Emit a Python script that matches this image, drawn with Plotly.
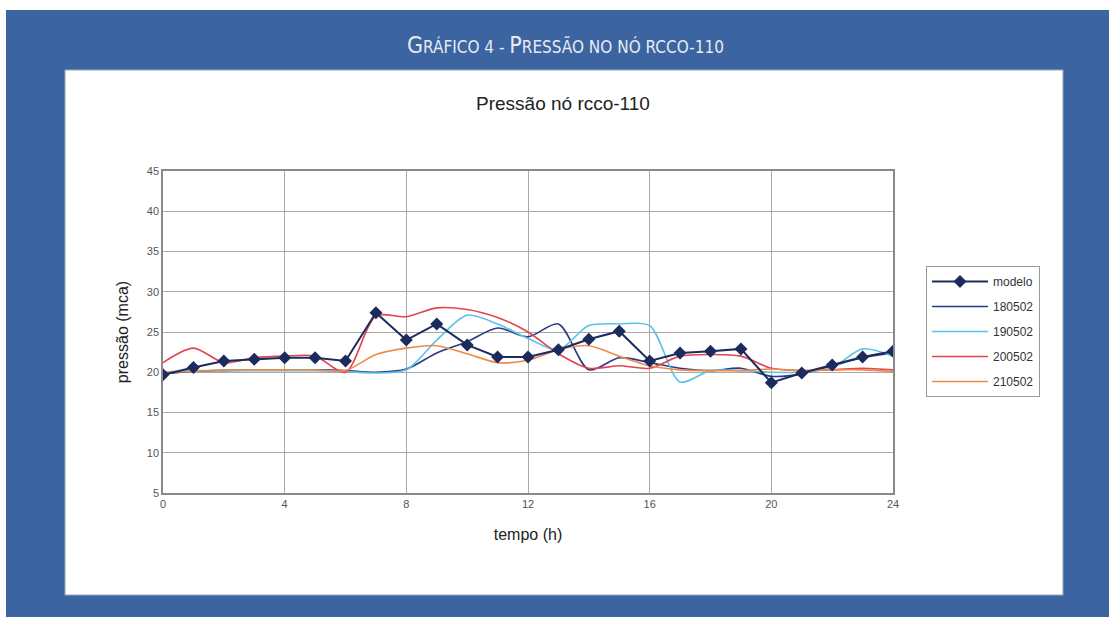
import plotly.graph_objects as go

hours = list(range(0, 25))
modelo = [19.7, 20.6, 21.4, 21.6, 21.8, 21.8, 21.4, 27.4, 24.0, 26.0, 23.4, 21.9, 21.9, 22.8, 24.1, 25.1, 21.4, 22.4, 22.6, 22.9, 18.7, 19.9, 20.9, 21.9, 22.6]
s180502 = [19.8, 20.1, 20.2, 20.3, 20.3, 20.3, 20.2, 20.0, 20.4, 22.4, 23.8, 25.5, 24.4, 26.0, 20.3, 21.8, 21.2, 20.5, 20.2, 20.5, 19.5, 19.8, 20.8, 21.8, 22.4]
s190502 = [20.0, 20.2, 20.2, 20.2, 20.2, 20.2, 20.1, 19.9, 20.3, 24.0, 27.1, 26.0, 24.2, 22.8, 25.8, 26.0, 25.8, 18.8, 20.2, 20.2, 20.0, 20.0, 20.6, 22.9, 22.0]
s200502 = [21.2, 23.0, 21.2, 21.8, 22.0, 22.0, 20.0, 27.0, 26.9, 28.0, 27.8, 26.8, 25.0, 22.3, 20.5, 20.8, 20.5, 22.0, 22.2, 22.0, 20.5, 20.2, 20.3, 20.5, 20.3]
s210502 = [20.0, 20.1, 20.3, 20.3, 20.3, 20.3, 20.2, 22.2, 23.0, 23.3, 22.3, 21.2, 21.5, 22.8, 23.3, 22.0, 20.8, 20.3, 20.2, 20.2, 20.4, 20.2, 20.3, 20.3, 20.1]

series = [
    ("180502", s180502, "#2a3a86"),
    ("190502", s190502, "#5cc3e6"),
    ("200502", s200502, "#e2454f"),
    ("210502", s210502, "#ef8a4a"),
]

fig = go.Figure()
for i, (nm, vals, col) in enumerate(series):
    fig.add_trace(go.Scatter(
        x=hours, y=vals, name=nm, mode="lines",
        line=dict(color=col, width=1.6, shape="spline", smoothing=0.8),
        legendgroup="g%d" % (i + 2), legendrank=i + 2))
# modelo drawn last (on top) but listed first in legend
fig.add_trace(go.Scatter(
    x=hours, y=modelo, name="modelo", mode="lines+markers",
    line=dict(color="#1c2b5e", width=2),
    marker=dict(symbol="diamond", size=10, color="#1c2b5e"),
    legendgroup="g1", legendrank=1))

# Plot area: x 163-893, y 171-493 px
L, R, T, B = 163, 893, 171, 493
W, H = R - L, B - T
def px(x):
    return (x - L) / W
def py(y):
    return (B - y) / H

shapes = [
    dict(type="rect", xref="paper", yref="paper", x0=px(6), x1=px(1109), y0=py(10), y1=py(617),
         fillcolor="#3c64a0", line=dict(width=0), layer="below"),
    dict(type="rect", xref="paper", yref="paper", x0=px(65), x1=px(1063), y0=py(70), y1=py(595),
         fillcolor="white", line=dict(color="#9aa6bd", width=1), layer="below"),
]

big = 23
header = ("<span style='font-size:%dpx'>G</span>RÁFICO 4 - <span style='font-size:%dpx'>P</span>RESSÃO NO NÓ RCCO-110"
          % (big, big))

fig.update_layout(
    width=1109, height=617,
    margin=dict(l=L, r=1109 - R, t=T, b=617 - B),
    paper_bgcolor="white", plot_bgcolor="white",
    shapes=shapes,
    showlegend=True,
    legend=dict(x=px(926), y=py(266), xanchor="left", yanchor="top",
                bordercolor="#999999", borderwidth=1, bgcolor="white",
                font=dict(family="Liberation Sans, Arial", size=12, color="#333333"),
                itemwidth=56, tracegroupgap=6, traceorder="grouped"),
    annotations=[
        dict(text=header, xref="paper", yref="paper", x=px(565), y=py(45),
             showarrow=False, xanchor="center", yanchor="middle",
             font=dict(family="Liberation Sans Narrow, DejaVu Sans Condensed, Arial Narrow, sans-serif",
                       size=17, color="#e6ebf3")),
        dict(text="Pressão nó rcco-110", xref="paper", yref="paper", x=px(563), y=py(103),
             showarrow=False, xanchor="center", yanchor="middle",
             font=dict(family="Liberation Sans, Arial", size=19, color="#222222")),
    ],
    xaxis=dict(range=[0, 24], tickvals=[0, 4, 8, 12, 16, 20, 24], showgrid=True,
               gridcolor="#a8a8a8", gridwidth=1, showline=True, linecolor="#8a8a8a",
               linewidth=1.5, mirror=True, zeroline=False, ticks="",
               tickfont=dict(family="Liberation Sans, Arial", size=11, color="#555555"),
               title=dict(text="tempo (h)", standoff=20,
                          font=dict(family="Liberation Sans, Arial", size=16, color="#222222"))),
    yaxis=dict(range=[5, 45], dtick=5, showgrid=True,
               gridcolor="#a8a8a8", gridwidth=1, showline=True, linecolor="#8a8a8a",
               linewidth=1.5, mirror=True, zeroline=False, ticks="",
               tickfont=dict(family="Liberation Sans, Arial", size=11, color="#555555"),
               title=dict(text="pressão (mca)", standoff=14,
                          font=dict(family="Liberation Sans, Arial", size=16, color="#222222"))),
)

fig.write_html("out.html")
